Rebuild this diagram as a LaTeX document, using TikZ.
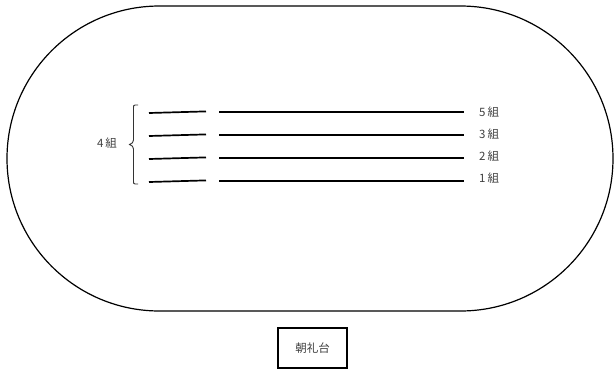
\documentclass[tikz,border=0pt]{standalone}
\usepackage{fontspec}
\newfontfamily\jp{Noto Sans CJK JP}
\usetikzlibrary{decorations.pathreplacing}
\begin{document}
\begin{tikzpicture}[x=1pt,y=-1pt,
  trackline/.style={line width=1.2pt,black},
  lane/.style={line width=1.7pt,black},
  lbl/.style={font=\jp\fontsize{11.5}{13}\selectfont,text=black!75,inner sep=0pt},
  stand/.style={draw,line width=1.5pt,minimum width=69pt,minimum height=40pt,font=\jp\fontsize{11.5}{13}\selectfont,text=black!75}]
\useasboundingbox (0,0) rectangle (614,373);
% track
\draw[trackline,rounded corners=152.5pt] (7,6) rectangle (613,311);
% lanes
\foreach \y/\n/\ty [count=\i] in {112/5/112,135/3/134,158/2/156,181/1/178}{
  \coordinate (s\i a) at (149,\y+1);
  \coordinate (s\i b) at (206,\y-0.6);
  \coordinate (l\i a) at (219,\y);
  \coordinate (l\i b) at (464,\y);
  \draw[lane] (s\i a) -- (s\i b);
  \draw[lane] (l\i a) -- (l\i b);
  \node[lbl,anchor=west] (g\i) at (479,\ty) {\n\hspace{2pt}組};
}
% brace
\coordinate (bt) at (138,105);
\coordinate (bb) at (138,184);
\draw[line width=0.9pt,black!80] (bt) -- (135,105) .. controls (133.5,105) and (133.5,106) .. (133.5,108)
  -- (133.5,140) .. controls (133.5,142) and (132,144) .. (129.5,144.5)
  .. controls (132,145) and (133.5,147) .. (133.5,149)
  -- (133.5,181) .. controls (133.5,183) and (133.5,184) .. (135,184) -- (bb);
\node[lbl] (g4) at (107,143) {4\hspace{2pt}組};
% stand
\node[stand] (dai) at (312.5,348) {朝礼台};
\end{tikzpicture}
\end{document}
